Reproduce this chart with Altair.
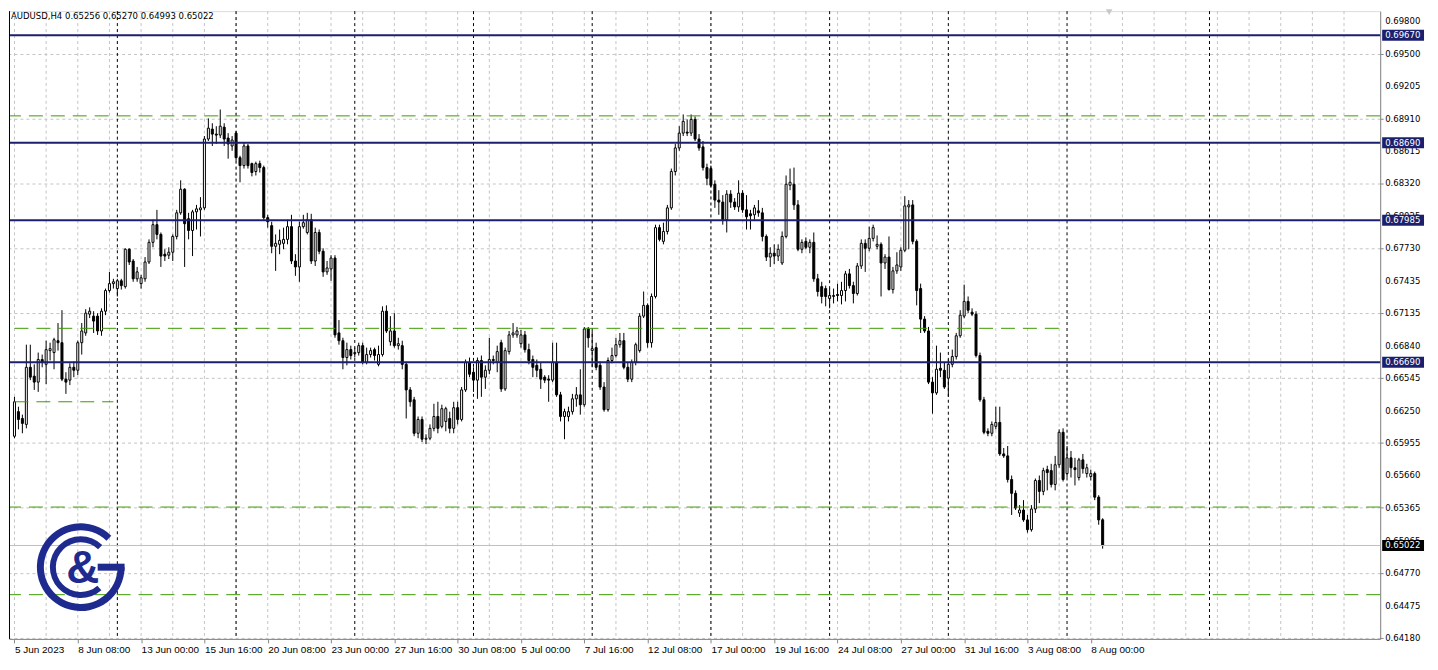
import math
import altair as alt
import pandas as pd

# ---------------- data (AUDUSD H4) ----------------
opens = [
0.66017, 0.66241, 0.66179, 0.66125, 0.66645, 0.66564, 0.66510, 0.66716, 0.66672, 0.66797,
0.66779, 0.66887, 0.66869, 0.66537, 0.66528, 0.66645, 0.66618, 0.66869, 0.66958, 0.67129,
0.67111, 0.67111, 0.66976, 0.67156, 0.67344, 0.67407, 0.67362, 0.67433, 0.67380, 0.67720,
0.67613, 0.67451, 0.67407, 0.67451, 0.67604, 0.67783, 0.67944, 0.67855, 0.67675, 0.67666,
0.67693, 0.67837, 0.68052, 0.68267, 0.67998, 0.67891, 0.68061, 0.68079, 0.68097, 0.68724,
0.68814, 0.68769, 0.68760, 0.68832, 0.68733, 0.68661, 0.68778, 0.68554, 0.68482, 0.68661,
0.68500, 0.68428, 0.68500, 0.68464, 0.68008, 0.67935, 0.67747, 0.67765, 0.67774, 0.67810,
0.67926, 0.67613, 0.67559, 0.67926, 0.67873, 0.67989, 0.67613, 0.67873, 0.67702, 0.67514,
0.67541, 0.67640, 0.66958, 0.66887, 0.66734, 0.66806, 0.66770, 0.66779, 0.66842, 0.66690,
0.66761, 0.66806, 0.66672, 0.66761, 0.67156, 0.66878, 0.66976, 0.66842, 0.66842, 0.66672,
0.66439, 0.66349, 0.66044, 0.66170, 0.65990, 0.65999, 0.66089, 0.66197, 0.66107, 0.66152,
0.66179, 0.66089, 0.66277, 0.66170, 0.66439, 0.66690, 0.66600, 0.66528, 0.66707, 0.66555,
0.66618, 0.66716, 0.66690, 0.66869, 0.66448, 0.66788, 0.66940, 0.66940, 0.66860, 0.66940,
0.66806, 0.66716, 0.66663, 0.66627, 0.66555, 0.66537, 0.66528, 0.66690, 0.66394, 0.66197,
0.66197, 0.66241, 0.66358, 0.66394, 0.66304, 0.66994, 0.66797, 0.66824, 0.66663, 0.66465,
0.66259, 0.66707, 0.66752, 0.66851, 0.66887, 0.66645, 0.66537, 0.66690, 0.66797, 0.67111,
0.67209, 0.66869, 0.67290, 0.67917, 0.67792, 0.67882, 0.68097, 0.68428, 0.68643, 0.68778,
0.68787, 0.68778, 0.68903, 0.68724, 0.68652, 0.68464, 0.68455, 0.68312, 0.68168, 0.68150,
0.67989, 0.68222, 0.68150, 0.68106, 0.68231, 0.68079, 0.68043, 0.68034, 0.68070, 0.68052,
0.67837, 0.67649, 0.67684, 0.67658, 0.67595, 0.67837, 0.68303, 0.68312, 0.68124, 0.67720,
0.67792, 0.67738, 0.67783, 0.67451, 0.67380, 0.67362, 0.67272, 0.67290, 0.67308, 0.67299,
0.67344, 0.67496, 0.67389, 0.67317, 0.67568, 0.67774, 0.67729, 0.67819, 0.67747, 0.67765,
0.67595, 0.67649, 0.67353, 0.67523, 0.67559, 0.67711, 0.68106, 0.68124, 0.67792, 0.67362,
0.67084, 0.66976, 0.66510, 0.66412, 0.66636, 0.66618, 0.66546, 0.66672, 0.66743, 0.66932,
0.67111, 0.67245, 0.67147, 0.67129, 0.66752, 0.66349, 0.66062, 0.66044, 0.66107, 0.66143,
0.65856, 0.65838, 0.65623, 0.65497, 0.65318, 0.65345, 0.65255, 0.65166, 0.65354, 0.65614,
0.65515, 0.65713, 0.65704, 0.65578, 0.65757, 0.66053, 0.65677, 0.65820, 0.65730, 0.65641,
0.65802, 0.65677, 0.65650, 0.65677, 0.65462, 0.65256]

closes = [
0.66331, 0.66170, 0.66134, 0.66645, 0.66555, 0.66510, 0.66716, 0.66690, 0.66806, 0.66815,
0.66896, 0.66869, 0.66537, 0.66510, 0.66645, 0.66618, 0.66869, 0.66976, 0.67138, 0.67156,
0.67066, 0.66976, 0.67156, 0.67344, 0.67407, 0.67424, 0.67433, 0.67389, 0.67720, 0.67604,
0.67451, 0.67514, 0.67460, 0.67604, 0.67783, 0.67944, 0.67855, 0.67658, 0.67658, 0.67693,
0.67837, 0.68052, 0.68267, 0.67953, 0.67891, 0.68061, 0.68088, 0.68097, 0.68724, 0.68823,
0.68769, 0.68760, 0.68841, 0.68724, 0.68679, 0.68715, 0.68554, 0.68482, 0.68661, 0.68482,
0.68419, 0.68500, 0.68464, 0.68008, 0.67971, 0.67747, 0.67774, 0.67801, 0.67810, 0.67926,
0.67613, 0.67559, 0.67926, 0.67962, 0.67989, 0.67613, 0.67873, 0.67702, 0.67514, 0.67550,
0.67640, 0.66940, 0.66887, 0.66734, 0.66806, 0.66752, 0.66779, 0.66842, 0.66690, 0.66761,
0.66797, 0.66752, 0.66761, 0.67156, 0.66976, 0.66976, 0.66842, 0.66860, 0.66672, 0.66439,
0.66331, 0.66044, 0.66170, 0.65990, 0.65999, 0.66089, 0.66197, 0.66089, 0.66268, 0.66268,
0.66089, 0.66277, 0.66170, 0.66439, 0.66690, 0.66582, 0.66528, 0.66707, 0.66555, 0.66618,
0.66716, 0.66707, 0.66788, 0.66448, 0.66797, 0.66940, 0.66958, 0.66976, 0.66940, 0.66806,
0.66707, 0.66645, 0.66618, 0.66537, 0.66528, 0.66528, 0.66690, 0.66394, 0.66197, 0.66241,
0.66241, 0.66358, 0.66394, 0.66304, 0.66994, 0.66914, 0.66815, 0.66645, 0.66465, 0.66259,
0.66707, 0.66752, 0.66851, 0.66887, 0.66645, 0.66537, 0.66690, 0.66851, 0.67111, 0.67209,
0.66869, 0.67290, 0.67917, 0.67810, 0.67882, 0.68097, 0.68428, 0.68643, 0.68778, 0.68885,
0.68778, 0.68903, 0.68724, 0.68643, 0.68464, 0.68366, 0.68303, 0.68168, 0.68150, 0.67989,
0.68222, 0.68150, 0.68106, 0.68231, 0.68079, 0.68016, 0.68025, 0.68097, 0.68052, 0.67837,
0.67649, 0.67684, 0.67658, 0.67720, 0.67837, 0.68312, 0.68330, 0.68124, 0.67720, 0.67783,
0.67738, 0.67783, 0.67451, 0.67335, 0.67290, 0.67290, 0.67299, 0.67299, 0.67299, 0.67344,
0.67496, 0.67389, 0.67317, 0.67568, 0.67774, 0.67729, 0.67819, 0.67917, 0.67765, 0.67595,
0.67649, 0.67353, 0.67523, 0.67577, 0.67711, 0.68115, 0.68124, 0.67792, 0.67344, 0.67084,
0.66976, 0.66510, 0.66412, 0.66627, 0.66618, 0.66465, 0.66672, 0.66743, 0.66932, 0.67120,
0.67245, 0.67165, 0.67129, 0.66752, 0.66349, 0.66053, 0.66044, 0.66125, 0.66143, 0.65856,
0.65838, 0.65623, 0.65497, 0.65363, 0.65345, 0.65255, 0.65166, 0.65354, 0.65614, 0.65515,
0.65704, 0.65686, 0.65578, 0.65757, 0.66053, 0.65623, 0.65820, 0.65730, 0.65713, 0.65802,
0.65722, 0.65730, 0.65677, 0.65462, 0.65255, 0.65022]

highs = [
0.66376, 0.66286, 0.66214, 0.66851, 0.66851, 0.66672, 0.66779, 0.66761, 0.66887, 0.66869,
0.66914, 0.67048, 0.67165, 0.66600, 0.66681, 0.66698, 0.66887, 0.67048, 0.67174, 0.67191,
0.67156, 0.67138, 0.67182, 0.67362, 0.67514, 0.67451, 0.67451, 0.67451, 0.67729, 0.67729,
0.67631, 0.67559, 0.67487, 0.67649, 0.67810, 0.67989, 0.68079, 0.67873, 0.67720, 0.67738,
0.67855, 0.68079, 0.68348, 0.68276, 0.68052, 0.68079, 0.68124, 0.68195, 0.68751, 0.68912,
0.68868, 0.68841, 0.68993, 0.68868, 0.68778, 0.68751, 0.68796, 0.68572, 0.68688, 0.68679,
0.68509, 0.68518, 0.68527, 0.68482, 0.68034, 0.67971, 0.67855, 0.67900, 0.67917, 0.67989,
0.68034, 0.67675, 0.67971, 0.68034, 0.68052, 0.68043, 0.67917, 0.67900, 0.67729, 0.67613,
0.67666, 0.67666, 0.67075, 0.66914, 0.66869, 0.66842, 0.66824, 0.66869, 0.66869, 0.66824,
0.66824, 0.66824, 0.66842, 0.67200, 0.67209, 0.67111, 0.67138, 0.66914, 0.66887, 0.66690,
0.66465, 0.66376, 0.66197, 0.66197, 0.66035, 0.66125, 0.66313, 0.66331, 0.66304, 0.66286,
0.66241, 0.66331, 0.66331, 0.66465, 0.66716, 0.66734, 0.66645, 0.66734, 0.66752, 0.66663,
0.66914, 0.66752, 0.66842, 0.66896, 0.66824, 0.66976, 0.67048, 0.67013, 0.66985, 0.66976,
0.66860, 0.66752, 0.66716, 0.66690, 0.66573, 0.66573, 0.66869, 0.66869, 0.66421, 0.66268,
0.66286, 0.66403, 0.66465, 0.66627, 0.67012, 0.67012, 0.66976, 0.66869, 0.66698, 0.66510,
0.66734, 0.66824, 0.66914, 0.66958, 0.66958, 0.66690, 0.66716, 0.66869, 0.67138, 0.67335,
0.67227, 0.67317, 0.67944, 0.67944, 0.67962, 0.68124, 0.68455, 0.68679, 0.68841, 0.68948,
0.68903, 0.68948, 0.68930, 0.68769, 0.68706, 0.68500, 0.68482, 0.68348, 0.68258, 0.68213,
0.68258, 0.68258, 0.68186, 0.68348, 0.68258, 0.68213, 0.68079, 0.68124, 0.68168, 0.68097,
0.67855, 0.67738, 0.67765, 0.67765, 0.67882, 0.68392, 0.68455, 0.68464, 0.68168, 0.67810,
0.67828, 0.67810, 0.67873, 0.67496, 0.67424, 0.67389, 0.67362, 0.67362, 0.67407, 0.67424,
0.67523, 0.67541, 0.67424, 0.67595, 0.67810, 0.67810, 0.67926, 0.67944, 0.67846, 0.67783,
0.67675, 0.67837, 0.67559, 0.67693, 0.67738, 0.68204, 0.68168, 0.68168, 0.67810, 0.67407,
0.67111, 0.67013, 0.66555, 0.66842, 0.66779, 0.66690, 0.66716, 0.66806, 0.66958, 0.67165,
0.67398, 0.67290, 0.67182, 0.67156, 0.66779, 0.66376, 0.66089, 0.66152, 0.66286, 0.66286,
0.65910, 0.65928, 0.65659, 0.65524, 0.65390, 0.65435, 0.65300, 0.65390, 0.65632, 0.65659,
0.65730, 0.65748, 0.65766, 0.65838, 0.66080, 0.66089, 0.65928, 0.65883, 0.65820, 0.65820,
0.65856, 0.65766, 0.65713, 0.65695, 0.65480, 0.65270]

lows = [
0.65999, 0.66080, 0.66044, 0.66089, 0.66528, 0.66439, 0.66421, 0.66645, 0.66492, 0.66707,
0.66627, 0.66797, 0.66519, 0.66403, 0.66483, 0.66555, 0.66573, 0.66761, 0.66932, 0.67093,
0.66958, 0.66940, 0.66932, 0.67120, 0.67326, 0.67362, 0.67290, 0.67353, 0.67362, 0.67577,
0.67424, 0.67424, 0.67362, 0.67424, 0.67586, 0.67738, 0.67810, 0.67559, 0.67613, 0.67631,
0.67613, 0.67810, 0.68034, 0.67559, 0.67810, 0.67658, 0.67900, 0.67837, 0.68079, 0.68706,
0.68661, 0.68679, 0.68733, 0.68661, 0.68545, 0.68617, 0.68527, 0.68330, 0.68455, 0.68455,
0.68384, 0.68392, 0.68419, 0.67989, 0.67917, 0.67684, 0.67523, 0.67675, 0.67720, 0.67765,
0.67586, 0.67478, 0.67424, 0.67908, 0.67855, 0.67586, 0.67568, 0.67675, 0.67469, 0.67487,
0.67433, 0.66914, 0.66851, 0.66627, 0.66663, 0.66716, 0.66734, 0.66752, 0.66672, 0.66672,
0.66734, 0.66707, 0.66654, 0.66743, 0.66958, 0.66842, 0.66824, 0.66806, 0.66627, 0.66179,
0.66286, 0.66017, 0.65999, 0.65964, 0.65946, 0.65981, 0.66062, 0.66044, 0.66089, 0.66062,
0.66044, 0.66044, 0.66125, 0.66152, 0.66421, 0.66555, 0.66421, 0.66358, 0.66376, 0.66448,
0.66582, 0.66672, 0.66600, 0.66421, 0.66430, 0.66761, 0.66914, 0.66914, 0.66824, 0.66779,
0.66672, 0.66555, 0.66555, 0.66448, 0.66501, 0.66331, 0.66510, 0.66376, 0.66152, 0.65990,
0.66152, 0.66214, 0.66286, 0.66214, 0.66286, 0.66824, 0.66645, 0.66618, 0.66439, 0.66241,
0.66241, 0.66681, 0.66734, 0.66824, 0.66627, 0.66510, 0.66510, 0.66663, 0.66779, 0.67093,
0.66824, 0.66824, 0.67272, 0.67792, 0.67765, 0.67855, 0.68079, 0.68392, 0.68617, 0.68751,
0.68751, 0.68751, 0.68706, 0.68617, 0.68437, 0.68303, 0.68285, 0.68097, 0.68034, 0.67944,
0.67873, 0.68097, 0.68079, 0.68061, 0.68052, 0.67900, 0.67900, 0.67989, 0.68016, 0.67792,
0.67613, 0.67559, 0.67586, 0.67613, 0.67577, 0.67819, 0.68258, 0.68079, 0.67702, 0.67684,
0.67720, 0.67684, 0.67424, 0.67290, 0.67227, 0.67200, 0.67182, 0.67227, 0.67245, 0.67218,
0.67245, 0.67362, 0.67227, 0.67299, 0.67541, 0.67514, 0.67702, 0.67792, 0.67720, 0.67290,
0.67541, 0.67344, 0.67317, 0.67496, 0.67523, 0.67693, 0.67720, 0.67765, 0.67209, 0.66958,
0.66958, 0.66492, 0.66223, 0.66394, 0.66555, 0.66448, 0.66376, 0.66645, 0.66716, 0.66914,
0.67093, 0.67138, 0.67111, 0.66734, 0.66331, 0.66035, 0.66017, 0.66017, 0.66080, 0.65838,
0.65820, 0.65596, 0.65300, 0.65345, 0.65282, 0.65238, 0.65139, 0.65148, 0.65318, 0.65408,
0.65480, 0.65524, 0.65551, 0.65524, 0.65730, 0.65605, 0.65641, 0.65641, 0.65569, 0.65614,
0.65677, 0.65641, 0.65614, 0.65435, 0.65211, 0.64993]

# time labels of the bottom axis (one every 16 bars)
time_labels = ["5 Jun 2023", "8 Jun 08:00", "13 Jun 00:00", "15 Jun 16:00", "20 Jun 08:00",
               "23 Jun 00:00", "27 Jun 16:00", "30 Jun 08:00", "5 Jul 00:00", "7 Jul 16:00",
               "12 Jul 08:00", "17 Jul 00:00", "19 Jul 16:00", "24 Jul 08:00", "27 Jul 00:00",
               "31 Jul 16:00", "3 Aug 08:00", "8 Aug 00:00"]
label_step = 16
grid_step = 8
week_bars = [26, 56, 86, 116, 146, 176, 206, 236, 266, 302]

# price axis ticks
price_ticks = [0.69800, 0.69500, 0.69205, 0.68910, 0.68615, 0.68320, 0.68025, 0.67730,
               0.67435, 0.67135, 0.66840, 0.66545, 0.66250, 0.65955, 0.65660, 0.65365,
               0.65065, 0.64770, 0.64475, 0.64180]

# horizontal levels
navy_levels = [0.69670, 0.68690, 0.67985, 0.66690]
green_full = [0.68935, 0.65372, 0.64574]
green_partial_price = [0.67000, 0.66331]
green_partial_from = [0, 0]
green_partial_to = [264, 25]
last_price = closes[-1]

# ---------------- layout ----------------
W, H = 1376, 630
X_DOM = [-0.125, 343.875]     # exactly 4 px per bar, bar centres on pixel centres
Y_DOM = [0.64171, 0.69889]
FONT = "DejaVu Sans Condensed, Liberation Sans, DejaVu Sans"
NAVY = "#1b1f6e"
GREEN = "#3d9a00"
LOGO = "#1f2a8f"

xs = alt.Scale(domain=X_DOM, nice=False, zero=False)
ys = alt.Scale(domain=Y_DOM, nice=False, zero=False)

n = len(opens)
df = pd.DataFrame({
    "i": list(range(n)),
    "open": opens, "high": highs, "low": lows, "close": closes,
})
df["fill"] = ["white" if c >= o else "black" for o, c in zip(opens, closes)]

label_idx = [k * label_step for k in range(len(time_labels))]
label_js = "[" + ",".join("'" + t + "'" for t in time_labels) + "]"

X = lambda f: alt.X(f, scale=xs, title=None)
Y = lambda f: alt.Y(f, scale=ys, title=None)

# vertical grid (every 8 bars) and weekly separators
vgrid = alt.Chart(pd.DataFrame({"i": list(range(0, 344, grid_step))})).mark_rule(
    color="#c4c4c4", strokeDash=[3, 3], strokeWidth=1
).encode(x=X("i:Q"))

weeks = alt.Chart(pd.DataFrame({"i": week_bars})).mark_rule(
    color="black", strokeDash=[3, 3], strokeWidth=1
).encode(x=X("i:Q"))

# candles
wicks = alt.Chart(df).mark_rule(color="black", strokeWidth=1).encode(
    x=alt.X("i:Q", scale=xs, title=None,
            axis=alt.Axis(values=label_idx, labelExpr=label_js + "[round(datum.value/16)]",
                          grid=False, labelAlign="left", labelPadding=2, tickSize=4,
                          labelOverlap=False, labelBound=False, labelFlush=False)),
    y=alt.Y("low:Q", scale=ys, title=None,
            axis=alt.Axis(orient="right", values=price_ticks, labels=False, grid=True,
                          gridColor="#c4c4c4", gridDash=[3, 3], tickSize=3)),
    y2="high:Q",
)
bodies = alt.Chart(df).mark_bar(width=2, stroke="black", strokeWidth=1).encode(
    x=X("i:Q"), y=Y("open:Q"), y2="close:Q",
    fill=alt.Fill("fill:N", scale=None),
)

# price scale labels (right side)
tick_df = pd.DataFrame({"p": price_ticks, "label": [f"{p:.5f}" for p in price_ticks]})
tick_labels = alt.Chart(tick_df).mark_text(
    align="left", baseline="middle", font=FONT, fontSize=9.5, color="black").encode(
    x=alt.value(W + 5), y=Y("p:Q"), text="label:N")

# horizontal level lines
navy_df = pd.DataFrame({"price": navy_levels, "label": [f"{p:.5f}" for p in navy_levels]})
navy_lines = alt.Chart(navy_df).mark_rule(color=NAVY, strokeWidth=2).encode(y=Y("price:Q"))
green_lines = alt.Chart(pd.DataFrame({"price": green_full})).mark_rule(
    color=GREEN, strokeDash=[14, 8], strokeWidth=1).encode(y=Y("price:Q"))
green_part = alt.Chart(pd.DataFrame({"price": green_partial_price, "a": green_partial_from,
                                     "b": green_partial_to})).mark_rule(
    color=GREEN, strokeDash=[14, 8], strokeWidth=1).encode(x=X("a:Q"), x2="b:Q", y=Y("price:Q"))
price_line = alt.Chart(pd.DataFrame({"price": [last_price]})).mark_rule(
    color="#c0c0c0", strokeWidth=1).encode(y=Y("price:Q"))

# axis label boxes
navy_box = alt.Chart(navy_df).mark_rule(color=NAVY, strokeWidth=11).encode(
    x=alt.value(W + 2), x2=alt.value(W + 44), y=Y("price:Q"))
navy_txt = alt.Chart(navy_df).mark_text(align="left", baseline="middle", color="white",
                                        font=FONT, fontSize=9.5).encode(
    x=alt.value(W + 5), y=Y("price:Q"), text="label:N")
last_df = pd.DataFrame({"price": [last_price], "label": [f"{last_price:.5f}"]})
last_box = alt.Chart(last_df).mark_rule(color="black", strokeWidth=11).encode(
    x=alt.value(W + 2), x2=alt.value(W + 44), y=Y("price:Q"))
last_txt = alt.Chart(last_df).mark_text(align="left", baseline="middle", color="white",
                                        font=FONT, fontSize=9.5).encode(
    x=alt.value(W + 5), y=Y("price:Q"), text="label:N")

# left border
left_border = alt.Chart(pd.DataFrame({"a": [0]})).mark_rule(color="black", strokeWidth=1).encode(
    x=alt.value(0.5))

# header
header_text = f"AUDUSD,H4  {opens[-1]:.5f} {highs[-1]:.5f} {lows[-1]:.5f} {closes[-1]:.5f}"
header = alt.Chart(pd.DataFrame({"t": [header_text]})).mark_text(
    align="left", baseline="top", font=FONT, fontSize=9.5, color="black").encode(
    x=alt.value(2), y=alt.value(0), text="t:N")

shift_marker = alt.Chart(pd.DataFrame({"a": [0]})).mark_point(
    shape="triangle-down", size=45, filled=True, color="#c8c8c8", opacity=1).encode(
    x=alt.value(1104), y=alt.value(1))

# logo
one = pd.DataFrame({"a": [0]})
cx, cy = 72, 558
logo_outer = alt.Chart(one).mark_arc(radius=44, radius2=37, theta=math.pi / 2,
                                     theta2=2 * math.pi + 0.77, color=LOGO).encode(
    x=alt.value(cx), y=alt.value(cy))
logo_inner = alt.Chart(one).mark_arc(radius=31, radius2=25, theta=2.41,
                                     theta2=2 * math.pi + 0.77, color=LOGO).encode(
    x=alt.value(cx), y=alt.value(cy))
logo_bar = alt.Chart(one).mark_rule(color=LOGO, strokeWidth=7).encode(
    x=alt.value(cx + 17), x2=alt.value(cx + 44), y=alt.value(cy))
logo_amp = alt.Chart(pd.DataFrame({"t": ["&"]})).mark_text(
    font="Liberation Sans", fontSize=46, fontWeight="bold", color=LOGO,
    align="center", baseline="middle").encode(x=alt.value(cx + 2), y=alt.value(cy + 2), text="t:N")

chart = alt.layer(
    vgrid, weeks, wicks, bodies, price_line, green_lines, green_part, navy_lines,
    tick_labels, navy_box, navy_txt, last_box, last_txt, left_border, header, shift_marker,
    logo_outer, logo_inner, logo_bar, logo_amp,
).properties(
    width=W, height=H, padding={"left": 0, "top": 0, "right": 0, "bottom": 0}
).configure_view(stroke=None).configure_axis(
    domainColor="black", tickColor="black", labelColor="black",
    labelFont=FONT, labelFontSize=9.5,
).configure(background="white")

chart.save("out.html", embed_options={"renderer": "svg", "actions": False})
